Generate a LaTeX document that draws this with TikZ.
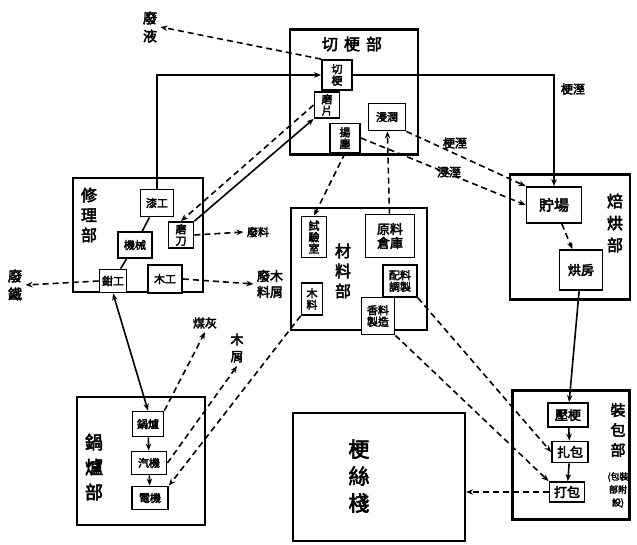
\documentclass[tikz,border=0pt]{standalone}
\usepackage{fontspec}
\newfontfamily\cjk[FakeBold=3]{Noto Sans CJK TC}
\usetikzlibrary{arrows.meta,positioning}

\begin{document}
\begin{tikzpicture}[x=1pt, y=-1pt,
  dept/.style={draw, line width=2.2pt, inner sep=0pt},
  unit/.style={draw, line width=1.8pt, fill=white, inner sep=1pt, align=center, font=\cjk\fontsize{11}{11.5}\selectfont},
  big/.style={font=\cjk\fontsize{13}{14}\selectfont},
  title/.style={align=center, font=\cjk\fontsize{16}{20}\selectfont},
  note/.style={align=center, font=\cjk\fontsize{12}{15}\selectfont},
  arr/.style={-{Stealth[length=7pt,width=5.5pt]}, line width=1.6pt},
  darr/.style={arr, dash pattern=on 6pt off 4pt},
  arr2/.style={arr, {Stealth[length=7pt,width=5.5pt]}-{Stealth[length=7pt,width=5.5pt]}}
]
\useasboundingbox (0,0) rectangle (637,544);
\fill[white] (0,0) rectangle (637,544);

\node[dept, minimum width=128, minimum height=125] (qg) at (354,92) {};
\node[dept, minimum width=130, minimum height=114] (xl) at (138,235) {};
\node[dept, minimum width=136, minimum height=122] (cl) at (359,269) {};
\node[dept, minimum width=120, minimum height=125] (hb) at (570,237) {};
\node[dept, minimum width=117, minimum height=129] (zb) at (571,455) {};
\node[dept, minimum width=128, minimum height=128] (gl) at (141,461) {};
\node[dept, minimum width=172, minimum height=128] (gz) at (379,477) {};

\node[title] (qgt) at (352,44) {切\hspace{6pt}梗\hspace{6pt}部};
\node[title] (xlt) at (89,215) {修\\理\\部};
\node[title] (clt) at (343,271) {材\\料\\部};
\node[title, font=\cjk\fontsize{16}{22}\selectfont] (hbt) at (615,223) {焙\\烘\\部};
\node[title, font=\cjk\fontsize{15}{20}\selectfont] (zbt) at (618,430) {裝\\包\\部};
\node[note, font=\cjk\fontsize{9}{13}\selectfont] (zbn) at (618,490) {(包裝\\部附\\設)};
\node[title, font=\cjk\fontsize{18}{25}\selectfont] (glt) at (94,467) {鍋\\爐\\部};
\node[title, font=\cjk\fontsize{21}{27}\selectfont] (gzt) at (359,476) {梗\\絲\\棧};

\node[unit, minimum width=30, minimum height=30] (qA) at (337,75) {切\\梗};
\node[unit, minimum width=25, minimum height=26] (qB) at (327,105) {磨\\片};
\node[unit, minimum width=37, minimum height=27] (qC) at (387,117) {浸潤};
\node[unit, minimum width=30, minimum height=29] (qD) at (345,138) {揚\\塵};

\node[unit, minimum width=33, minimum height=27] (xA) at (157,203) {漆工};
\node[unit, minimum width=34, minimum height=26] (xB) at (135,245) {機械};
\node[unit, minimum width=25, minimum height=26] (xC) at (181,235) {磨\\刀};
\node[unit, minimum width=27, minimum height=23] (xD) at (113,281) {鉗工};
\node[unit, minimum width=34, minimum height=28] (xE) at (165,279) {木工};

\node[unit, minimum width=25, minimum height=41] (cF) at (314,237) {試\\驗\\室};
\node[unit, big, minimum width=49, minimum height=43] (cG) at (390,236) {原料\\倉庫};
\node[unit, minimum width=34, minimum height=32] (cH) at (400,281) {配料\\調製};
\node[unit, minimum width=33, minimum height=37] (cI) at (378,316) {香料\\製造};
\node[unit, minimum width=21, minimum height=32] (cJ) at (312,299) {木\\料};

\node[unit, font=\cjk\fontsize{15}{16}\selectfont, minimum width=55, minimum height=36] (hA) at (554,205) {貯場};
\node[unit, big, minimum width=43, minimum height=40] (hB) at (581,270) {烘房};
\node[unit, font=\cjk\fontsize{13}{14}\selectfont, minimum width=40, minimum height=24] (zA) at (568,415) {壓梗};
\node[unit, font=\cjk\fontsize{13}{14}\selectfont, minimum width=36, minimum height=21] (zB) at (570,452) {扎包};
\node[unit, font=\cjk\fontsize{13}{14}\selectfont, minimum width=35, minimum height=20] (zC) at (567,492) {打包};
\node[unit, minimum width=31, minimum height=25] (gK) at (148,424) {鍋爐};
\node[unit, minimum width=35, minimum height=23] (gL) at (149,463) {汽機};
\node[unit, minimum width=36, minimum height=23] (gM) at (150,498) {電機};

\node[note, font=\cjk\fontsize{14}{18}\selectfont] (fy) at (150,27) {廢\\液};
\node[note, font=\cjk\fontsize{14}{18}\selectfont] (lt) at (15,285) {廢\\鐵};
\node[note, font=\cjk\fontsize{11}{12}\selectfont] (r1) at (258,232) {廢料};
\node[note, font=\cjk\fontsize{13}{16}\selectfont] (r2) at (270,284) {廢木\\料屑};
\node[note] (tr) at (573,89) {梗溼};
\node[note] (d1) at (455,143) {梗溼};
\node[note] (d2) at (449,172) {浸溼};
\node[note] (m1) at (205,323) {煤灰};
\node[note, font=\cjk\fontsize{13}{17}\selectfont] (m2) at (237,348) {木\\屑};

\draw[arr] (xA.north) |- (qA.west);
\draw[arr] (qA.east) -| (hA.north);
\draw[darr] (qA.north west) -- (fy.east);
\draw[arr] (xC.north east) -- (qB.south west);
\draw[darr] (qB.west) -- (xC.north);
\draw[darr] (qD.south) -- (cF.north);
\draw[darr] (cG) -- (qC);
\draw[darr] (qC.south east) -- (hA.north west);
\draw[darr] (qD.east) -- (hA.west);
\draw[darr] (hA) -- (hB);
\draw[arr] (hB) -- (zA);
\draw[arr] (zA) -- (zB);
\draw[arr] (zB) -- (zC);
\draw[darr] (zC.west) -- (zC.west -| gz.east);
\draw[darr] (cH.south east) -- (zB.west);
\draw[darr] (cI.south east) -- (zC.north west);
\draw[darr] (cJ.south west) -- (gM.north east);
\draw[darr] (gK.north east) -- (m1.south);
\draw[darr] (gL.east) -- (m2.south);
\draw[arr2] (xD.south) -- (gK.north);
\draw[arr] (gK) -- (gL);
\draw[arr] (gL) -- (gM);
\draw[line width=1.6pt] (xA) -- (xB);
\draw[line width=1.6pt] (xB) -- (xD);
\draw[darr] (xD.west) -- (lt.east);
\draw[darr] (xC.east) -- (r1.west);
\draw[darr] (xE.east) -- (r2.west);

\end{tikzpicture}
\end{document}
